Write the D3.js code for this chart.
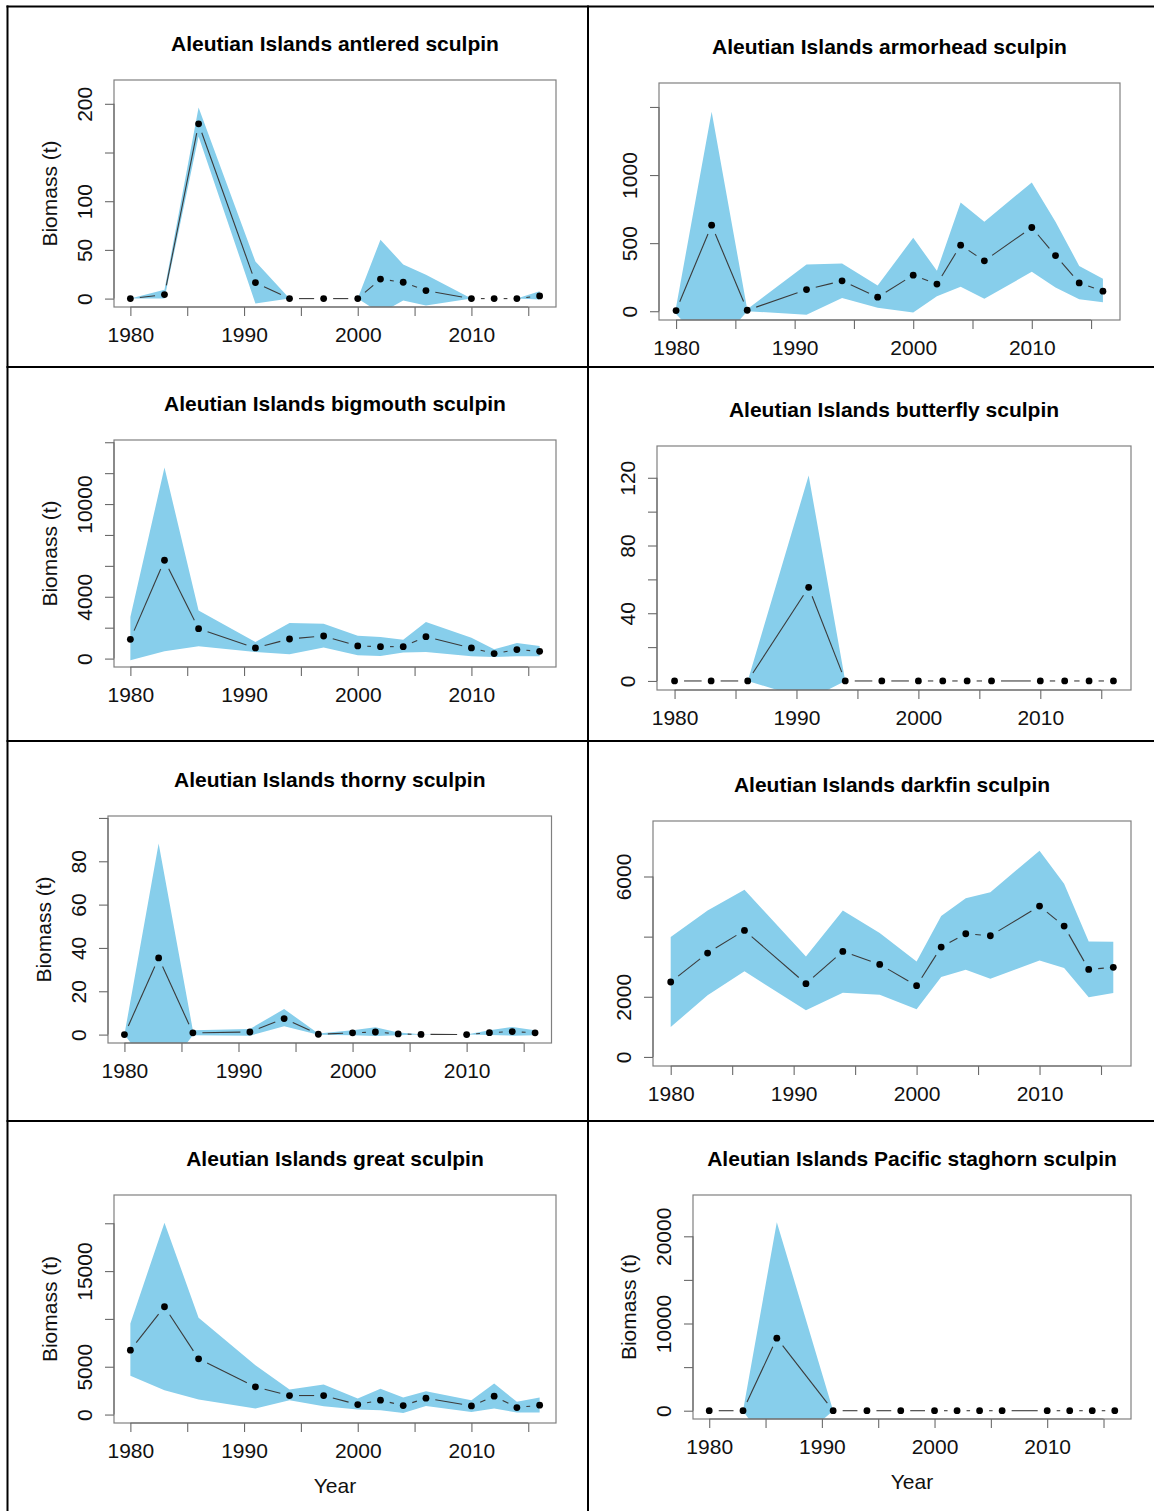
<!DOCTYPE html>
<html><head><meta charset="utf-8">
<script src="https://cdn.jsdelivr.net/npm/d3@7/dist/d3.min.js"></script>
<style>
body{margin:0;background:#fff}
svg{display:block}
text{font-family:'Liberation Sans',Arial,Helvetica,sans-serif}
</style>
</head><body><div id="chart"></div>
<script>
// ---------------- DATA ----------------
const years = [1980,1983,1986,1991,1994,1997,2000,2002,2004,2006,2010,2012,2014,2016];
const titles = [
  "Aleutian Islands antlered sculpin",
  "Aleutian Islands armorhead sculpin",
  "Aleutian Islands bigmouth sculpin",
  "Aleutian Islands butterfly sculpin",
  "Aleutian Islands thorny sculpin",
  "Aleutian Islands darkfin sculpin",
  "Aleutian Islands great sculpin",
  "Aleutian Islands Pacific staghorn sculpin"
];
const xTicks = [1980,1985,1990,1995,2000,2005,2010,2015];
const xTickLabels = [1980,1990,2000,2010];

const antleredEst = [0,4.1,179.5,16.4,0,0,0,20,16.8,8.2,0,0,0,2.7];
const antleredLo  = [0,0,166.5,-5,0,0,0,-15,-2,-7,0,0,0,-1];
const antleredHi  = [0,9,196.2,38,0,0,0,60.5,35,24.6,0,0,0,7.5];

const armorheadEst = [5,632,7,159,223,103,265,199,485,370,615,409,208,147];
const armorheadLo  = [-20,-300,0,-25,98,25,-10,110,179,91,289,174,88,66];
const armorheadHi  = [30,1465,15,343,350,189,539,297,799,657,946,657,333,238];

const bigmouthEst = [1247,6364,1935,688,1269,1462,817,774,774,1419,688,323,581,473];
const bigmouthLo  = [-108,473,796,430,280,710,215,172,387,430,150,108,150,150];
const bigmouthHi  = [2688,12364,3118,1075,2300,2258,1484,1398,1226,2365,1355,602,1011,817];

const butterflyEst = [0,0,0,55.3,0,0,0,0,0,0,0,0,0,0];
const butterflyLo  = [0,0,0,-11,0,0,0,0,0,0,0,0,0,0];
const butterflyHi  = [0,0,0,121.3,0,0,0,0,0,0,0,0,0,0];

const thornyEst = [0,35.4,0.8,1.2,7.4,0.15,0.8,1.2,0.3,0.1,0,0.9,1.4,0.8];
const thornyLo  = [0,-21,-0.3,-0.5,3.8,-0.1,-0.3,-0.6,-0.3,0,0,-0.2,-0.5,-0.3];
const thornyHi  = [0,88.2,2,2.6,11.8,0.5,2,3.4,1,0.2,0,2,3.5,2];

const darkfinEst = [2491,3454,4207,2435,3509,3077,2369,3653,4096,4029,5015,4350,2911,2978];
const darkfinLo  = [996,2048,2845,1550,2137,2070,1583,2657,2900,2601,3210,2956,1982,2125];
const darkfinHi  = [3985,4871,5557,3343,4871,4118,3177,4683,5280,5480,6858,5756,3841,3830];

const greatEst = [6736,11273,5828,2897,1989,1989,1047,1501,942,1710,907,1920,733,977];
const greatLo  = [4048,2548,1571,628,1501,873,524,454,175,907,279,628,209,209];
const greatHi  = [9528,20066,10121,5165,2618,3141,1675,2687,1780,2443,1501,3246,1326,1780];

const staghornEst = [0,0,8321,0,0,0,0,0,0,0,0,0,0,0];
const staghornLo  = [0,0,-5600,0,0,0,0,0,0,0,0,0,0,0];
const staghornHi  = [0,0,21622,0,0,0,0,0,0,0,0,0,0,0];

const yTicksList = [
  [0,50,100,150,200],
  [0,500,1000,1500],
  [0,2000,4000,6000,8000,10000,12000,14000],
  [0,20,40,60,80,100,120],
  [0,20,40,60,80,100],
  [0,2000,4000,6000],
  [0,5000,10000,15000,20000],
  [0,5000,10000,15000,20000]
];
const yTickLabelsList = [
  [0,50,100,200],
  [0,500,1000],
  [0,4000,10000],
  [0,40,80,120],
  [0,20,40,60,80],
  [0,2000,6000],
  [0,5000,15000],
  [0,10000,20000]
];
const yAxisTitle = "Biomass (t)";
const xAxisTitle = "Year";

// ---------------- LAYOUT ----------------
const boxes = [
  {l:114, r:556,   t:80,   b:307},
  {l:659, r:1120,  t:83,   b:320},
  {l:114, r:556,   t:440,  b:667},
  {l:657, r:1131,  t:446,  b:690},
  {l:108, r:551.5, t:816,  b:1043},
  {l:653, r:1131,  t:821,  b:1066},
  {l:114, r:556,   t:1195, b:1423},
  {l:693, r:1131,  t:1195, b:1419}
];
const showYTitle = [true,false,true,false,true,false,true,true];
const showXTitle = [false,false,false,false,false,false,true,true];

const series = [
  [antleredEst, antleredLo, antleredHi],
  [armorheadEst, armorheadLo, armorheadHi],
  [bigmouthEst, bigmouthLo, bigmouthHi],
  [butterflyEst, butterflyLo, butterflyHi],
  [thornyEst, thornyLo, thornyHi],
  [darkfinEst, darkfinLo, darkfinHi],
  [greatEst, greatLo, greatHi],
  [staghornEst, staghornLo, staghornHi]
];

const FS = 21;
const svg = d3.select('#chart').append('svg').attr('width',1154).attr('height',1511);
svg.append('rect').attr('width',1154).attr('height',1511).attr('fill','#fff');

// table grid
const grid = svg.append('g').attr('stroke','#000').attr('stroke-width',2);
[6.5,367,741,1121].forEach(y => grid.append('line').attr('x1',6.5).attr('x2',1154).attr('y1',y).attr('y2',y));
[7.5,588].forEach(x => grid.append('line').attr('x1',x).attr('x2',x).attr('y1',5.5).attr('y2',1511));

const defs = svg.append('defs');

series.forEach((s, i) => {
  const [est, lo, hi] = s;
  const bx = boxes[i];
  const g = svg.append('g');
  const xPad = 0.04*(d3.max(years)-d3.min(years));
  const x = d3.scaleLinear().domain([d3.min(years)-xPad, d3.max(years)+xPad]).range([bx.l, bx.r]);
  const yMax = 1.1*d3.max(hi);
  const y = d3.scaleLinear().domain([-0.04*yMax, 1.04*yMax]).range([bx.b, bx.t]);

  defs.append('clipPath').attr('id','clip'+i).append('rect')
    .attr('x',bx.l).attr('y',bx.t).attr('width',bx.r-bx.l).attr('height',bx.b-bx.t);

  // confidence band
  const area = d3.area().x((d,j)=>x(years[j])).y0((d,j)=>y(lo[j])).y1((d,j)=>y(hi[j]));
  g.append('path').datum(est).attr('d',area).attr('fill','#87CEEB').attr('stroke','none')
    .attr('clip-path','url(#clip'+i+')');

  // line with gaps (type "b")
  const gap = 9.5;
  for (let j=0;j<years.length-1;j++){
    const x1=x(years[j]), y1=y(est[j]), x2=x(years[j+1]), y2=y(est[j+1]);
    const d=Math.hypot(x2-x1,y2-y1);
    if (d>2*gap){
      const ux=(x2-x1)/d, uy=(y2-y1)/d;
      g.append('line').attr('x1',x1+ux*gap).attr('y1',y1+uy*gap)
        .attr('x2',x2-ux*gap).attr('y2',y2-uy*gap)
        .attr('stroke','#3a3a3a').attr('stroke-width',1.1);
    }
  }
  // points
  g.selectAll('circle.pt').data(est).enter().append('circle')
    .attr('cx',(d,j)=>x(years[j])).attr('cy',d=>y(d)).attr('r',3.4).attr('fill','#000');

  // box
  g.append('rect').attr('x',bx.l).attr('y',bx.t).attr('width',bx.r-bx.l).attr('height',bx.b-bx.t)
    .attr('fill','none').attr('stroke','#808080').attr('stroke-width',1.2);

  // y axis
  const yTicks = yTicksList[i], yLabs = yTickLabelsList[i];
  const ya = g.append('g').attr('transform',`translate(${bx.l},0)`)
    .call(d3.axisLeft(y).tickValues(yTicks).tickSize(9)
      .tickFormat(d => yLabs.includes(d) ? String(d) : ''));
  ya.select('.domain').remove();
  ya.selectAll('.tick line').attr('stroke','#6a6a6a').attr('stroke-width',1.1);
  ya.selectAll('.tick text').attr('x',null).attr('dy',null)
    .attr('transform','translate(-22,0) rotate(-90)').attr('text-anchor','middle')
    .attr('font-size',FS).attr('fill','#111').attr('font-family',"'Liberation Sans',Arial,sans-serif");
  ya.append('line').attr('x1',0).attr('x2',0).attr('y1',y(yTicks[0])).attr('y2',y(yTicks[yTicks.length-1]))
    .attr('stroke','#6a6a6a').attr('stroke-width',1.1);

  // x axis
  const xa = g.append('g').attr('transform',`translate(0,${bx.b})`)
    .call(d3.axisBottom(x).tickValues(xTicks).tickSize(9)
      .tickFormat(d => xTickLabels.includes(d) ? String(d) : ''));
  xa.select('.domain').remove();
  xa.selectAll('.tick line').attr('stroke','#6a6a6a').attr('stroke-width',1.1);
  xa.selectAll('.tick text').attr('y',35).attr('dy',null)
    .attr('font-size',FS).attr('fill','#111').attr('font-family',"'Liberation Sans',Arial,sans-serif");
  xa.append('line').attr('x1',x(xTicks[0])).attr('x2',x(xTicks[xTicks.length-1])).attr('y1',0).attr('y2',0)
    .attr('stroke','#6a6a6a').attr('stroke-width',1.1);

  // title
  g.append('text').attr('x',(bx.l+bx.r)/2).attr('y',bx.t-29).attr('text-anchor','middle')
    .attr('font-size',FS).attr('font-weight','bold').attr('fill','#000').text(titles[i]);

  if (showYTitle[i]) {
    g.append('text').attr('transform',`translate(${bx.l-57},${(bx.t+bx.b)/2}) rotate(-90)`)
      .attr('text-anchor','middle').attr('font-size',FS).attr('fill','#111').text(yAxisTitle);
  }
  if (showXTitle[i]) {
    g.append('text').attr('x',(bx.l+bx.r)/2).attr('y',bx.b+70).attr('text-anchor','middle')
      .attr('font-size',FS).attr('fill','#111').text(xAxisTitle);
  }
});
</script>
</body></html>
